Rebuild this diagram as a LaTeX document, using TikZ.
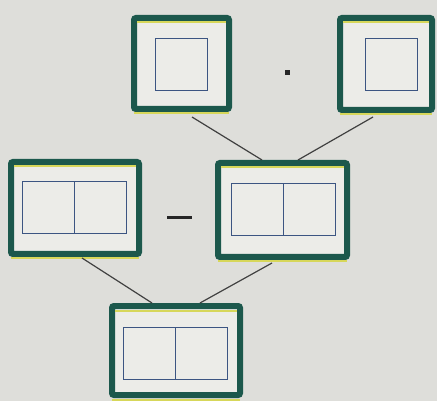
\documentclass[tikz,border=0pt]{standalone}
\definecolor{frame}{RGB}{28,88,76}
\definecolor{paper}{RGB}{222,222,218}
\definecolor{card}{RGB}{236,236,232}
\definecolor{stripe}{RGB}{215,215,90}
\definecolor{cellline}{RGB}{60,85,130}
\usepackage{tikz}
\usetikzlibrary{positioning}

\tikzset{
  card/.style={draw=frame, line width=6, fill=card, rounded corners=2, inner sep=0},
  cell/.style={draw=cellline, line width=1, minimum width=52, minimum height=52, inner sep=0, outer sep=0},
  link/.style={draw=black!75, line width=1.2}
}

\begin{document}
\begin{tikzpicture}[x=1pt, y=-1pt]
  %% 0. Paper
  \fill[paper] (0,0) rectangle (437,401);
  \useasboundingbox (0,0) rectangle (437,401);
  %% 1. Cards
  \node[card, minimum width=95, minimum height=91] (tl) at (181.5,63.5) {};
  \node[card, minimum width=92, minimum height=92] (tr) at (386,64) {};
  \node[card, minimum width=128, minimum height=92] (ml) at (75,208) {};
  \node[card, minimum width=129, minimum height=94] (mr) at (282.5,210) {};
  \node[card, minimum width=128, minimum height=89] (bt) at (176,350.5) {};
  \foreach \c in {tl,tr,ml,mr,bt} {
    \draw[stripe, line width=2] ([xshift=6,yshift=-7.5]\c.north west) -- ([xshift=-6,yshift=-7.5]\c.north east);
    \draw[stripe, line width=2] ([xshift=3,yshift=-1.5]\c.south west) -- ([xshift=-3,yshift=-1.5]\c.south east);
  }
  %% 2. Cells
  \node[cell] (tlA) at (181,64.5) {};
  \node[cell] (trA) at (391,65) {};
  \node[cell] (mlA) at (48.5,208) {};
  \node[cell, right=0pt of mlA] (mlB) {};
  \node[cell] (mrA) at (257,210) {};
  \node[cell, right=0pt of mrA] (mrB) {};
  \node[cell] (btA) at (149.5,353) {};
  \node[cell, right=0pt of btA] (btB) {};
  %% 3. Operators
  \node[fill=black!85, minimum width=25, minimum height=3, inner sep=0] (minus) at (179.5,218) {};
  \node[fill=black!85, minimum size=5, inner sep=0] (dot) at (287.5,72.5) {};
  %% 4. Links
  \draw[link] ([xshift=10.5,yshift=-5]tl.south) -- ([xshift=-20.5]mr.north);
  \draw[link] ([xshift=-13,yshift=-4]tr.south) -- ([xshift=15.5]mr.north);
  \draw[link] ([xshift=7,yshift=-1]ml.south) -- ([xshift=-24]bt.north);
  \draw[link] ([xshift=-10.5,yshift=-3]mr.south) -- ([xshift=24]bt.north);
\end{tikzpicture}
\end{document}
